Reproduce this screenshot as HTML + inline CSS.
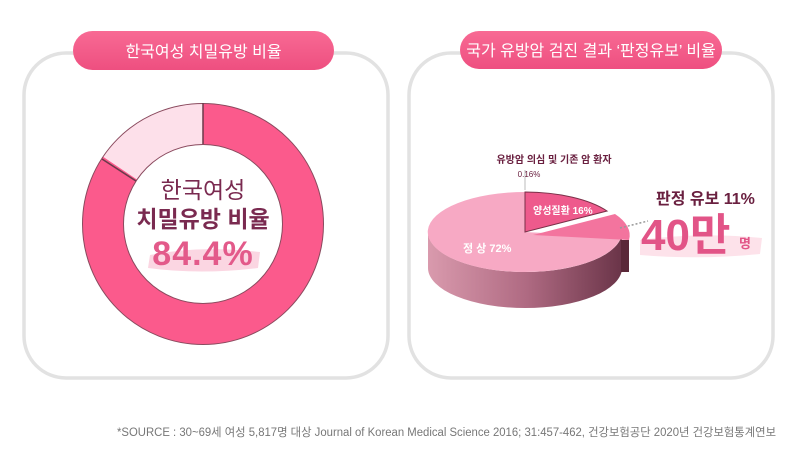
<!DOCTYPE html>
<html><head><meta charset="utf-8"><style>
body{margin:0;width:800px;height:451px;background:#fff;overflow:hidden;font-family:"Liberation Sans","Noto Sans CJK KR",sans-serif;}
</style></head><body>
<svg width="800" height="451" xmlns="http://www.w3.org/2000/svg" style="position:absolute;left:0;top:0">
<defs>
<linearGradient id="pill" x1="0" y1="0" x2="0" y2="1"><stop offset="0" stop-color="#f86a94"/><stop offset="1" stop-color="#ee4f80"/></linearGradient>
<linearGradient id="side" x1="0" y1="0" x2="1" y2="0"><stop offset="0" stop-color="#d99aad"/><stop offset="0.5" stop-color="#b06b83"/><stop offset="1" stop-color="#6a3448"/></linearGradient>
</defs>
<rect x="24" y="53" width="364" height="325" rx="42" fill="#fff" stroke="#e2e2e2" stroke-width="3.5"/>
<rect x="409" y="53" width="364" height="325" rx="42" fill="#fff" stroke="#e2e2e2" stroke-width="3.5"/>
<rect x="73" y="31" width="261" height="39" rx="19.5" fill="url(#pill)"/>
<rect x="460" y="31" width="262" height="38" rx="19" fill="url(#pill)"/>
<text x="203.5" y="57" font-size="16" fill="#fff" text-anchor="middle">한국여성 치밀유방 비율</text>
<text x="591" y="56" font-size="16" fill="#fff" text-anchor="middle">국가 유방암 검진 결과 ‘판정유보’ 비율</text>
<circle cx="203" cy="224" r="100" fill="none" stroke="#fde0ea" stroke-width="41"/>
<circle cx="203" cy="224" r="100" fill="none" stroke="#fb5a8c" stroke-width="41" stroke-dasharray="530.3 1000" transform="rotate(-90 203 224)"/>
<circle cx="203" cy="224" r="120.5" fill="none" stroke="#8a4a5e" stroke-width="1"/>
<circle cx="203" cy="224" r="79.5" fill="none" stroke="#8a4a5e" stroke-width="1"/>
<line x1="203" y1="103" x2="203" y2="144" stroke="#6a3a4a" stroke-width="1.5"/>
<line x1="102" y1="159" x2="136" y2="181" stroke="#6a3a4a" stroke-width="1.5"/>
<text x="203" y="198" font-size="23" fill="#7a2a50" text-anchor="middle">한국여성</text>
<text x="203" y="227" font-size="23" fill="#7a2a50" text-anchor="middle" font-weight="bold">치밀유방 비율</text>
<path d="M150 255 Q200 245 260 252 L258 268 Q200 275 148 268 Z" fill="#fbd6e2"/>
<text x="203" y="265" font-size="34" fill="#e35a8a" text-anchor="middle" font-weight="bold" letter-spacing="1">84.4%</text>
<path d="M428 232 L428 268 A97 40 0 0 0 622 268 L622 232 A97 40 0 0 1 428 232 Z" fill="url(#side)"/>
<path d="M621 240 L629 240 L629 272 L621 272 Z" fill="#5a2838"/>
<path d="M525 232 L621 237 A97 40 0 1 1 525 192 Z" fill="#f7a9c4"/>
<path d="M525 232 L525 192 A97 40 0 0 1 607 211 Z" fill="#ee5a8c" stroke="#7a3048" stroke-width="1"/>
<path d="M533 235 L615 214 A97 40 0 0 1 629 240 Z" fill="#f3749e"/>
<line x1="525" y1="190" x2="525" y2="170" stroke="#bbb" stroke-width="1"/>
<text x="554" y="163" font-size="10" fill="#6a2040" text-anchor="middle" font-weight="bold">유방암 의심 및 기존 암 환자</text>
<text x="529" y="177" font-size="8" fill="#6a2040" text-anchor="middle">0.16%</text>
<text x="533" y="214" font-size="10" fill="#fff" font-weight="bold">양성질환 16%</text>
<text x="463" y="252" font-size="11" fill="#fff" font-weight="bold">정 상 72%</text>
<line x1="620" y1="228" x2="648" y2="221" stroke="#999" stroke-width="1.5" stroke-dasharray="2 2"/>
<text x="656" y="204" font-size="16" fill="#6a2040" font-weight="bold">판정 유보 11%</text>
<path d="M640 240 Q700 232 762 238 L760 254 Q700 260 640 255 Z" fill="#fde2ea"/>
<text x="641" y="250" font-size="44" fill="#e25487" font-weight="bold">40만</text>
<text x="739" y="248" font-size="13" fill="#e25487" font-weight="bold">명</text>
<text x="776" y="436" font-size="11.5" fill="#777" text-anchor="end" textLength="659" lengthAdjust="spacingAndGlyphs">*SOURCE : 30~69세 여성 5,817명 대상 Journal of Korean Medical Science 2016; 31:457-462, 건강보험공단 2020년 건강보험통계연보</text>
</svg>
</body></html>
